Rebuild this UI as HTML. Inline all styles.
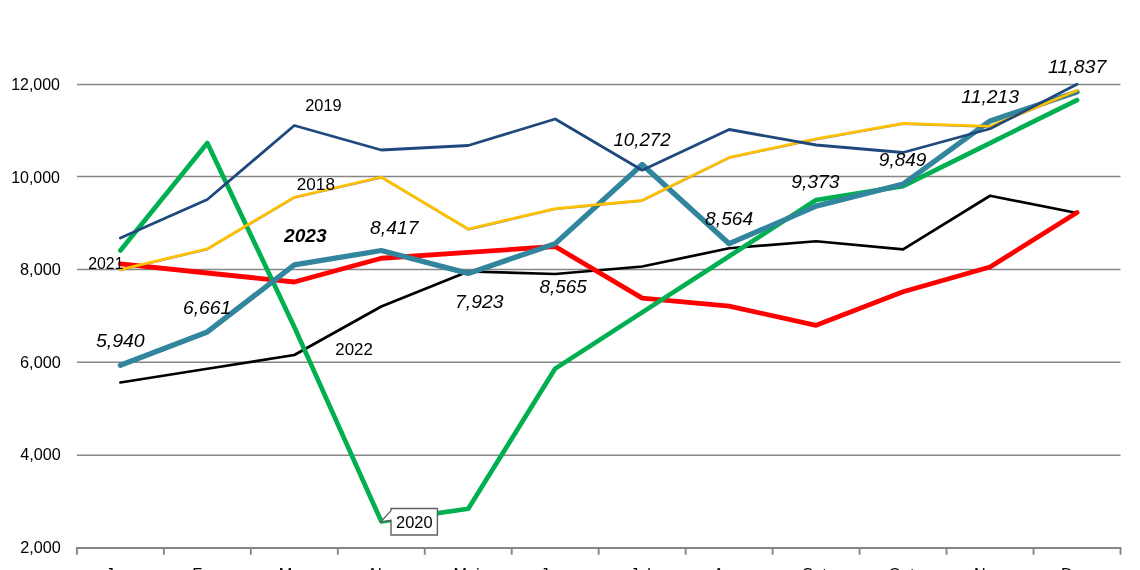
<!DOCTYPE html>
<html lang="pt">
<head>
<meta charset="utf-8">
<title>Chart</title>
<style>
html,body{margin:0;padding:0;background:#fff;}
body{width:1140px;height:570px;overflow:hidden;}
svg{display:block;}
text{font-family:"Liberation Sans",sans-serif;fill:#000;}
.ax,.sl{font-size:16.2px;}
.vl{font-size:18.7px;font-style:italic;}
.bl{font-size:18.7px;font-style:italic;font-weight:bold;}
.ln{fill:none;stroke-linejoin:round;stroke-linecap:round;}
</style>
</head>
<body>
<svg width="1140" height="570" viewBox="0 0 1140 570">
<rect x="0" y="0" width="1140" height="570" fill="#ffffff"/>
<g stroke="#868686" stroke-width="1.5" fill="none">
<line x1="76.9" y1="84.50" x2="1120.5" y2="84.50"/>
<line x1="76.9" y1="176.55" x2="1120.5" y2="176.55"/>
<line x1="76.9" y1="269.40" x2="1120.5" y2="269.40"/>
<line x1="76.9" y1="362.30" x2="1120.5" y2="362.30"/>
<line x1="76.9" y1="455.25" x2="1120.5" y2="455.25"/>
</g>
<g stroke="#868686" stroke-width="1.9" fill="none">
<line x1="75.95" y1="548" x2="1121.45" y2="548"/>
<line x1="76.90" y1="548" x2="76.90" y2="554.8"/>
<line x1="163.87" y1="548" x2="163.87" y2="554.8"/>
<line x1="250.83" y1="548" x2="250.83" y2="554.8"/>
<line x1="337.80" y1="548" x2="337.80" y2="554.8"/>
<line x1="424.77" y1="548" x2="424.77" y2="554.8"/>
<line x1="511.73" y1="548" x2="511.73" y2="554.8"/>
<line x1="598.70" y1="548" x2="598.70" y2="554.8"/>
<line x1="685.67" y1="548" x2="685.67" y2="554.8"/>
<line x1="772.63" y1="548" x2="772.63" y2="554.8"/>
<line x1="859.60" y1="548" x2="859.60" y2="554.8"/>
<line x1="946.57" y1="548" x2="946.57" y2="554.8"/>
<line x1="1033.53" y1="548" x2="1033.53" y2="554.8"/>
<line x1="1120.50" y1="548" x2="1120.50" y2="554.8"/>
</g>
<polyline class="ln" stroke="#000000" stroke-width="2.7" points="120.38,382.50 207.35,368.75 294.32,355.00 381.28,306.50 468.25,271.50 555.22,274.00 642.18,266.50 729.15,248.25 816.12,241.25 903.08,249.40 990.05,195.75 1077.02,213.00"/>
<polyline class="ln" stroke="#FF0000" stroke-width="4.8" points="120.38,263.90 207.35,273.00 294.32,282.00 381.28,258.25 468.25,252.40 555.22,246.50 642.18,298.10 729.15,306.20 816.12,325.30 903.08,291.80 990.05,267.00 1077.02,212.50"/>
<polyline class="ln" stroke="#00B050" stroke-width="4.7" points="120.38,250.50 207.35,143.00 294.32,327.00 381.28,521.40 468.25,508.75 555.22,368.60 642.18,312.40 729.15,256.20 816.12,200.00 903.08,186.10 990.05,143.05 1077.02,100.10"/>
<polyline class="ln" stroke="#31859C" stroke-width="5.3" points="120.38,365.34 207.35,331.92 294.32,264.93 381.28,250.51 468.25,273.41 555.22,243.65 642.18,164.51 729.15,243.69 816.12,206.19 903.08,184.12 990.05,120.89 1077.02,91.96"/>
<polyline class="ln" stroke="#4a3a00" stroke-opacity="0.55" stroke-width="1.6" points="120.38,270.45 207.35,249.60 294.32,198.05 381.28,177.85 468.25,229.85 555.22,209.45 642.18,201.15 729.15,158.25 816.12,139.60 903.08,124.25 990.05,127.10 1077.02,91.45"/>
<polyline class="ln" stroke="#FFC000" stroke-width="2.7" points="120.38,269.60 207.35,248.75 294.32,197.20 381.28,177.00 468.25,229.00 555.22,208.60 642.18,200.30 729.15,157.40 816.12,138.75 903.08,123.40 990.05,126.25 1077.02,90.60"/>
<polyline class="ln" stroke="#1F497D" stroke-width="2.8" points="120.38,238.00 207.35,199.50 294.32,125.50 381.28,150.00 468.25,145.50 555.22,119.00 642.18,170.20 729.15,129.50 816.12,145.00 903.08,152.50 990.05,128.75 1077.02,84.30"/>
<path d="M391,508.5 H437.4 V535 H391 V520.2 L381,521.6 L391,510.6 Z" fill="#ffffff" stroke="#606060" stroke-width="1.4" stroke-linejoin="miter"/>
<text class="ax" x="11.13" y="89.70" textLength="48.82" lengthAdjust="spacingAndGlyphs">12,000</text>
<text class="ax" x="11.13" y="182.80" textLength="48.82" lengthAdjust="spacingAndGlyphs">10,000</text>
<text class="ax" x="20.05" y="274.70" textLength="40.77" lengthAdjust="spacingAndGlyphs">8,000</text>
<text class="ax" x="20.05" y="367.60" textLength="40.77" lengthAdjust="spacingAndGlyphs">6,000</text>
<text class="ax" x="20.30" y="460.40" textLength="40.52" lengthAdjust="spacingAndGlyphs">4,000</text>
<text class="ax" x="20.30" y="553.05" textLength="40.52" lengthAdjust="spacingAndGlyphs">2,000</text>
<text class="sl" x="305.22" y="111.40" textLength="36.39" lengthAdjust="spacingAndGlyphs">2019</text>
<text class="sl" x="296.84" y="189.60" textLength="38.07" lengthAdjust="spacingAndGlyphs">2018</text>
<text class="sl" x="88.26" y="268.70" textLength="35.19" lengthAdjust="spacingAndGlyphs">2021</text>
<text class="sl" x="335.26" y="354.50" textLength="37.52" lengthAdjust="spacingAndGlyphs">2022</text>
<text class="sl" x="396.05" y="527.80" textLength="36.48" lengthAdjust="spacingAndGlyphs">2020</text>
<text class="vl" x="95.97" y="346.70" textLength="48.68" lengthAdjust="spacingAndGlyphs">5,940</text>
<text class="vl" x="183.01" y="313.80" textLength="48.37" lengthAdjust="spacingAndGlyphs">6,661</text>
<text class="vl" x="370.14" y="233.70" textLength="48.34" lengthAdjust="spacingAndGlyphs">8,417</text>
<text class="vl" x="455.12" y="308.20" textLength="48.32" lengthAdjust="spacingAndGlyphs">7,923</text>
<text class="vl" x="539.43" y="292.50" textLength="47.26" lengthAdjust="spacingAndGlyphs">8,565</text>
<text class="vl" x="613.38" y="145.80" textLength="57.23" lengthAdjust="spacingAndGlyphs">10,272</text>
<text class="vl" x="705.14" y="224.80" textLength="48.06" lengthAdjust="spacingAndGlyphs">8,564</text>
<text class="vl" x="791.34" y="187.80" textLength="48.02" lengthAdjust="spacingAndGlyphs">9,373</text>
<text class="vl" x="878.88" y="165.80" textLength="47.52" lengthAdjust="spacingAndGlyphs">9,849</text>
<text class="vl" x="961.38" y="103.05" textLength="57.73" lengthAdjust="spacingAndGlyphs">11,213</text>
<text class="vl" x="1047.97" y="73.40" textLength="58.34" lengthAdjust="spacingAndGlyphs">11,837</text>
<text class="bl" x="284.06" y="242.00" textLength="42.59" lengthAdjust="spacingAndGlyphs">2023</text>
<text class="ax" x="118.78" y="580.0" text-anchor="middle">Jan</text>
<text class="ax" x="205.75" y="580.0" text-anchor="middle">Fev</text>
<text class="ax" x="292.72" y="580.0" text-anchor="middle">Mar</text>
<text class="ax" x="379.68" y="580.0" text-anchor="middle">Abr</text>
<text class="ax" x="466.65" y="580.0" text-anchor="middle">Mai</text>
<text class="ax" x="553.62" y="580.0" text-anchor="middle">Jun</text>
<text class="ax" x="640.58" y="580.0" text-anchor="middle">Jul</text>
<text class="ax" x="727.55" y="580.0" text-anchor="middle">Ago</text>
<text class="ax" x="814.52" y="580.0" text-anchor="middle">Set</text>
<text class="ax" x="901.48" y="580.0" text-anchor="middle">Out</text>
<text class="ax" x="988.45" y="580.0" text-anchor="middle">Nov</text>
<text class="ax" x="1075.42" y="580.0" text-anchor="middle">Dez</text>
</svg>
</body>
</html>
